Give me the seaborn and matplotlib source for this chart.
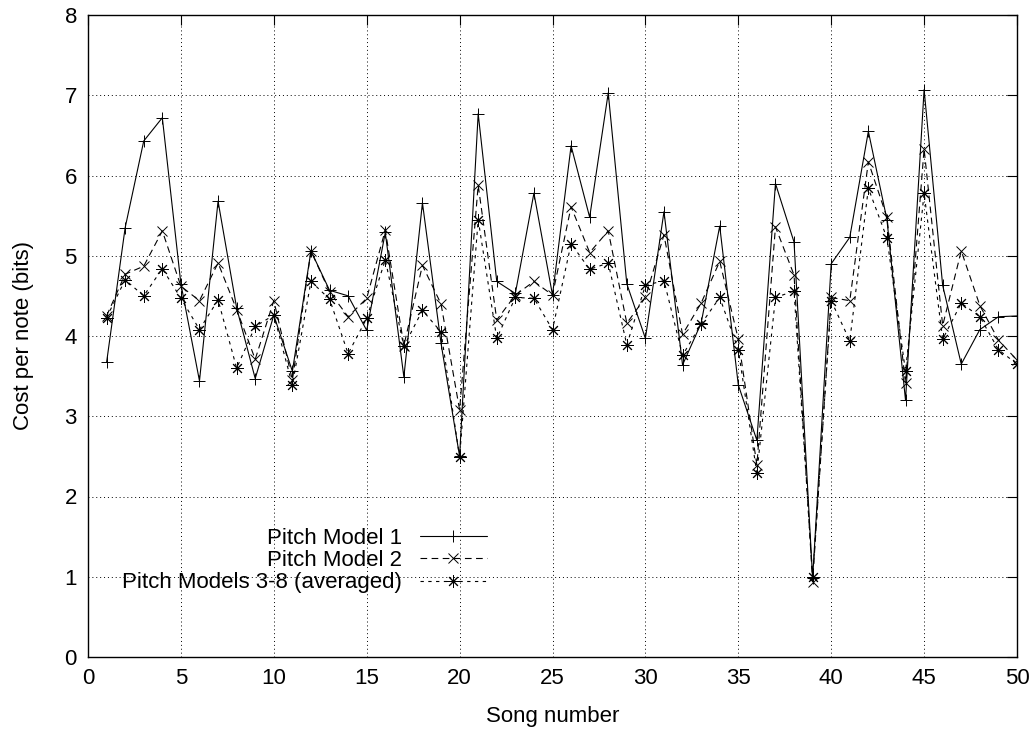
import numpy as np
import pandas as pd
import seaborn as sns
from matplotlib import pyplot as plt

# Song numbers 1..50
songs = list(range(1, 51))

# Cost per note (bits)
pitch_model_1 = [3.67, 5.35, 6.43, 6.72, 4.65, 3.44, 5.68, 4.35, 3.47, 4.26,
                 3.56, 5.06, 4.57, 4.50, 4.07, 5.29, 3.49, 5.66, 3.91, 2.50,
                 6.77, 4.68, 4.53, 5.78, 4.51, 6.37, 5.48, 7.03, 4.65, 3.97,
                 5.55, 3.64, 4.16, 5.37, 3.39, 2.70, 5.90, 5.17, 0.98, 4.90,
                 5.23, 6.55, 5.45, 3.20, 7.07, 4.63, 3.65, 4.08, 4.24, 4.25]
pitch_model_2 = [4.25, 4.77, 4.87, 5.31, 4.62, 4.44, 4.91, 4.33, 3.71, 4.44,
                 3.45, 5.06, 4.55, 4.24, 4.47, 5.32, 3.88, 4.88, 4.40, 3.08,
                 5.88, 4.20, 4.51, 4.68, 4.51, 5.61, 5.04, 5.31, 4.16, 4.48,
                 5.26, 4.02, 4.41, 4.93, 3.96, 2.39, 5.36, 4.76, 0.94, 4.48,
                 4.44, 6.17, 5.48, 3.41, 6.33, 4.13, 5.06, 4.38, 3.95, 3.70]
pitch_models_3_8 = [4.23, 4.70, 4.50, 4.84, 4.47, 4.08, 4.45, 3.60, 4.12, 4.26,
                    3.39, 4.68, 4.46, 3.78, 4.22, 4.95, 3.87, 4.32, 4.05, 2.49,
                    5.45, 3.97, 4.48, 4.47, 4.08, 5.15, 4.83, 4.91, 3.89, 4.63,
                    4.69, 3.76, 4.15, 4.48, 3.83, 2.29, 4.48, 4.56, 1.00, 4.44,
                    3.94, 5.84, 5.22, 3.56, 5.78, 3.96, 4.41, 4.24, 3.83, 3.65]

labels = ['Pitch Model 1', 'Pitch Model 2', 'Pitch Models 3-8 (averaged)']

df = pd.DataFrame({
    'song': songs * 3,
    'cost': pitch_model_1 + pitch_model_2 + pitch_models_3_8,
    'model': [labels[0]] * 50 + [labels[1]] * 50 + [labels[2]] * 50,
})

sns.set_style('white')
plt.rcParams['font.family'] = ['Liberation Sans', 'DejaVu Sans']
plt.rcParams['text.color'] = 'black'
plt.rcParams['axes.labelcolor'] = 'black'
plt.rcParams['xtick.color'] = 'black'
plt.rcParams['ytick.color'] = 'black'
FS = 16

fig = plt.figure(figsize=(10.32, 7.29), dpi=100)
ax = fig.add_axes([88 / 1032, 72 / 729, 929 / 1032, 642 / 729])

styles = {
    labels[0]: dict(linestyle='-', marker='+', markersize=9),
    labels[1]: dict(linestyle=(0, (6, 4)), marker='x', markersize=7),
    labels[2]: dict(linestyle=(0, (3, 4)), marker=(8, 2, 0), markersize=9),
}

for name in labels:
    sns.lineplot(data=df[df['model'] == name], x='song', y='cost', ax=ax,
                 color='black', linewidth=0.8, markeredgewidth=0.7,
                 markeredgecolor='black', markerfacecolor='none',
                 label=name, **styles[name])

ax.set_xlim(0, 50)
ax.set_ylim(0, 8)
ax.set_xticks(np.arange(0, 51, 5))
ax.set_yticks(np.arange(0, 9, 1))
ax.grid(True, color='black', linestyle=(0, (1, 3)), linewidth=0.7)
ax.tick_params(direction='in', length=7, width=0.8, top=True, right=True,
               labelsize=FS, pad=8)
for s in ax.spines.values():
    s.set_color('black')
    s.set_linewidth(1.0)

ax.set_xlabel('Song number', fontsize=FS, labelpad=12)
ax.set_ylabel('Cost per note (bits)', fontsize=FS, labelpad=22)

leg = ax.legend(loc='upper right', bbox_to_anchor=(0.441, 0.218),
                frameon=False, markerfirst=False, handlelength=3,
                labelspacing=0.05, borderpad=0, handletextpad=0.8,
                fontsize=FS)

fig.savefig('out.png', dpi=100)
